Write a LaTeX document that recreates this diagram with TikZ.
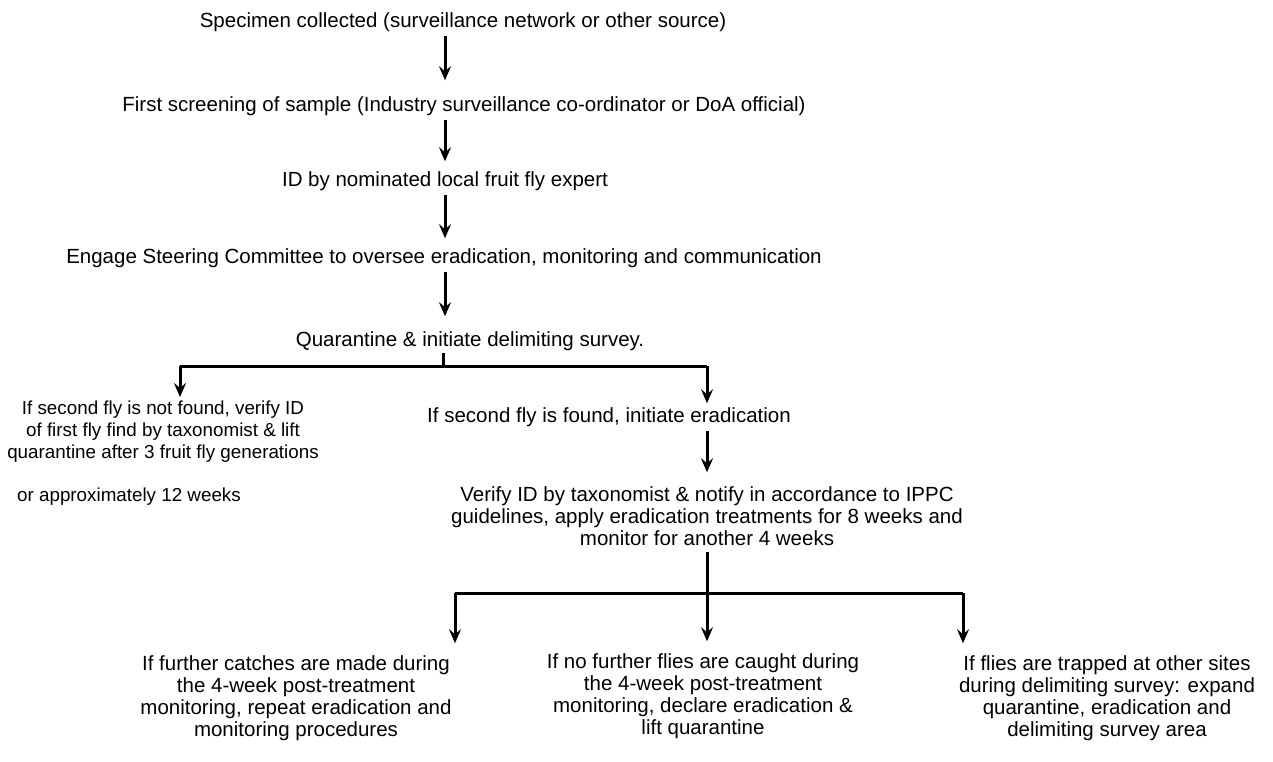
\documentclass[tikz,border=0pt]{standalone}
\usepackage{fontspec}
\setmainfont{Liberation Sans}
\usetikzlibrary{arrows.meta,calc,positioning}

\begin{document}
\begin{tikzpicture}[x=1pt,y=-1pt,font=\fontsize{20.5}{22}\selectfont]
    % Styles
    \tikzstyle{step text}=[inner sep=2pt,align=center]
    \tikzstyle{flow}=[line width=3pt,-{Stealth[length=14pt,width=12pt,inset=5pt]}]
    \tikzstyle{bar}=[line width=3pt]

    \useasboundingbox (0,0) rectangle (1273,761);

    % The chain of steps
    \node[step text] (spec) at (463,22) {Specimen collected (surveillance network or other source)};
    \node[step text] (screen) at (464,106) {First screening of sample (Industry surveillance co-ordinator or DoA official)};
    \node[step text] (ident) at (445,181) {ID by nominated local fruit fly expert};
    \node[step text] (engage) at (444,258) {Engage Steering Committee to oversee eradication, monitoring and communication};
    \node[step text] (quar) at (470,341) {Quarantine \& initiate delimiting survey.};

    \draw[flow,shorten <=2pt,shorten >=14pt] (spec.south -| ident) -- (screen.north -| ident);
    \draw[flow,shorten <=2pt,shorten >=8pt] (screen.south -| ident) -- (ident.north);
    \draw[flow,shorten <=2pt,shorten >=8pt] (ident.south) -- (engage.north -| ident);
    \draw[flow,shorten <=2pt,shorten >=13pt] (engage.south -| ident) -- (quar.north -| ident);

    % First fork
    \coordinate (forkA) at (443,366);
    \coordinate (forkL) at (180,366);
    \coordinate (forkR) at (707,366);
    \draw[bar] (quar.south -| forkA) -- (forkA);
    \draw[bar] (forkL) -- (forkR);

    \node[step text,font=\fontsize{18.8}{22}\selectfont] (notfound) at (163,432) {If second fly is not found, verify ID\\of first fly find by taxonomist \& lift\\ quarantine after 3 fruit fly generations};
    \node[step text,anchor=west,font=\fontsize{18.8}{22}\selectfont] (later) at (15,497) {or approximately 12 weeks};
    \node[step text] (found) at (609,417) {If second fly is found, initiate eradication};
    \node[step text] (verify) at (707,516) {Verify ID by taxonomist \& notify in accordance to IPPC\\guidelines, apply eradication treatments for 8 weeks and\\monitor for another 4 weeks};

    \draw[flow,shorten >=2pt] (forkL) -- (forkL |- notfound.north);
    \draw[flow,shorten >=2pt] (forkR) -- (forkR |- found.north);
    \draw[flow,shorten <=2pt,shorten >=12pt] (found.south -| verify) -- (verify.north);

    % Second fork
    \node[step text] (further) at (296,698) {If further catches are made during\\the 4-week post-treatment\\monitoring, repeat eradication and\\monitoring procedures};
    \node[step text] (nofly) at (703,696) {If no further flies are caught during\\the 4-week post-treatment\\monitoring, declare eradication \&\\lift quarantine};
    \node[step text] (sites) at (1107,698) {If flies are trapped at other sites\\during delimiting survey: expand\\quarantine, eradication and\\delimiting survey area};

    \coordinate (forkBL) at (455,593);
    \coordinate (forkBR) at (963,593);
    \draw[bar] (forkBL) -- (forkBR);
    \draw[flow,shorten <=4pt,shorten >=10pt] (verify.south) -- (nofly.north -| verify);
    \draw[flow,shorten >=10pt] (forkBL) -- (forkBL |- further.north);
    \draw[flow,shorten >=10pt] (forkBR) -- (forkBR |- sites.north);
\end{tikzpicture}
\end{document}
